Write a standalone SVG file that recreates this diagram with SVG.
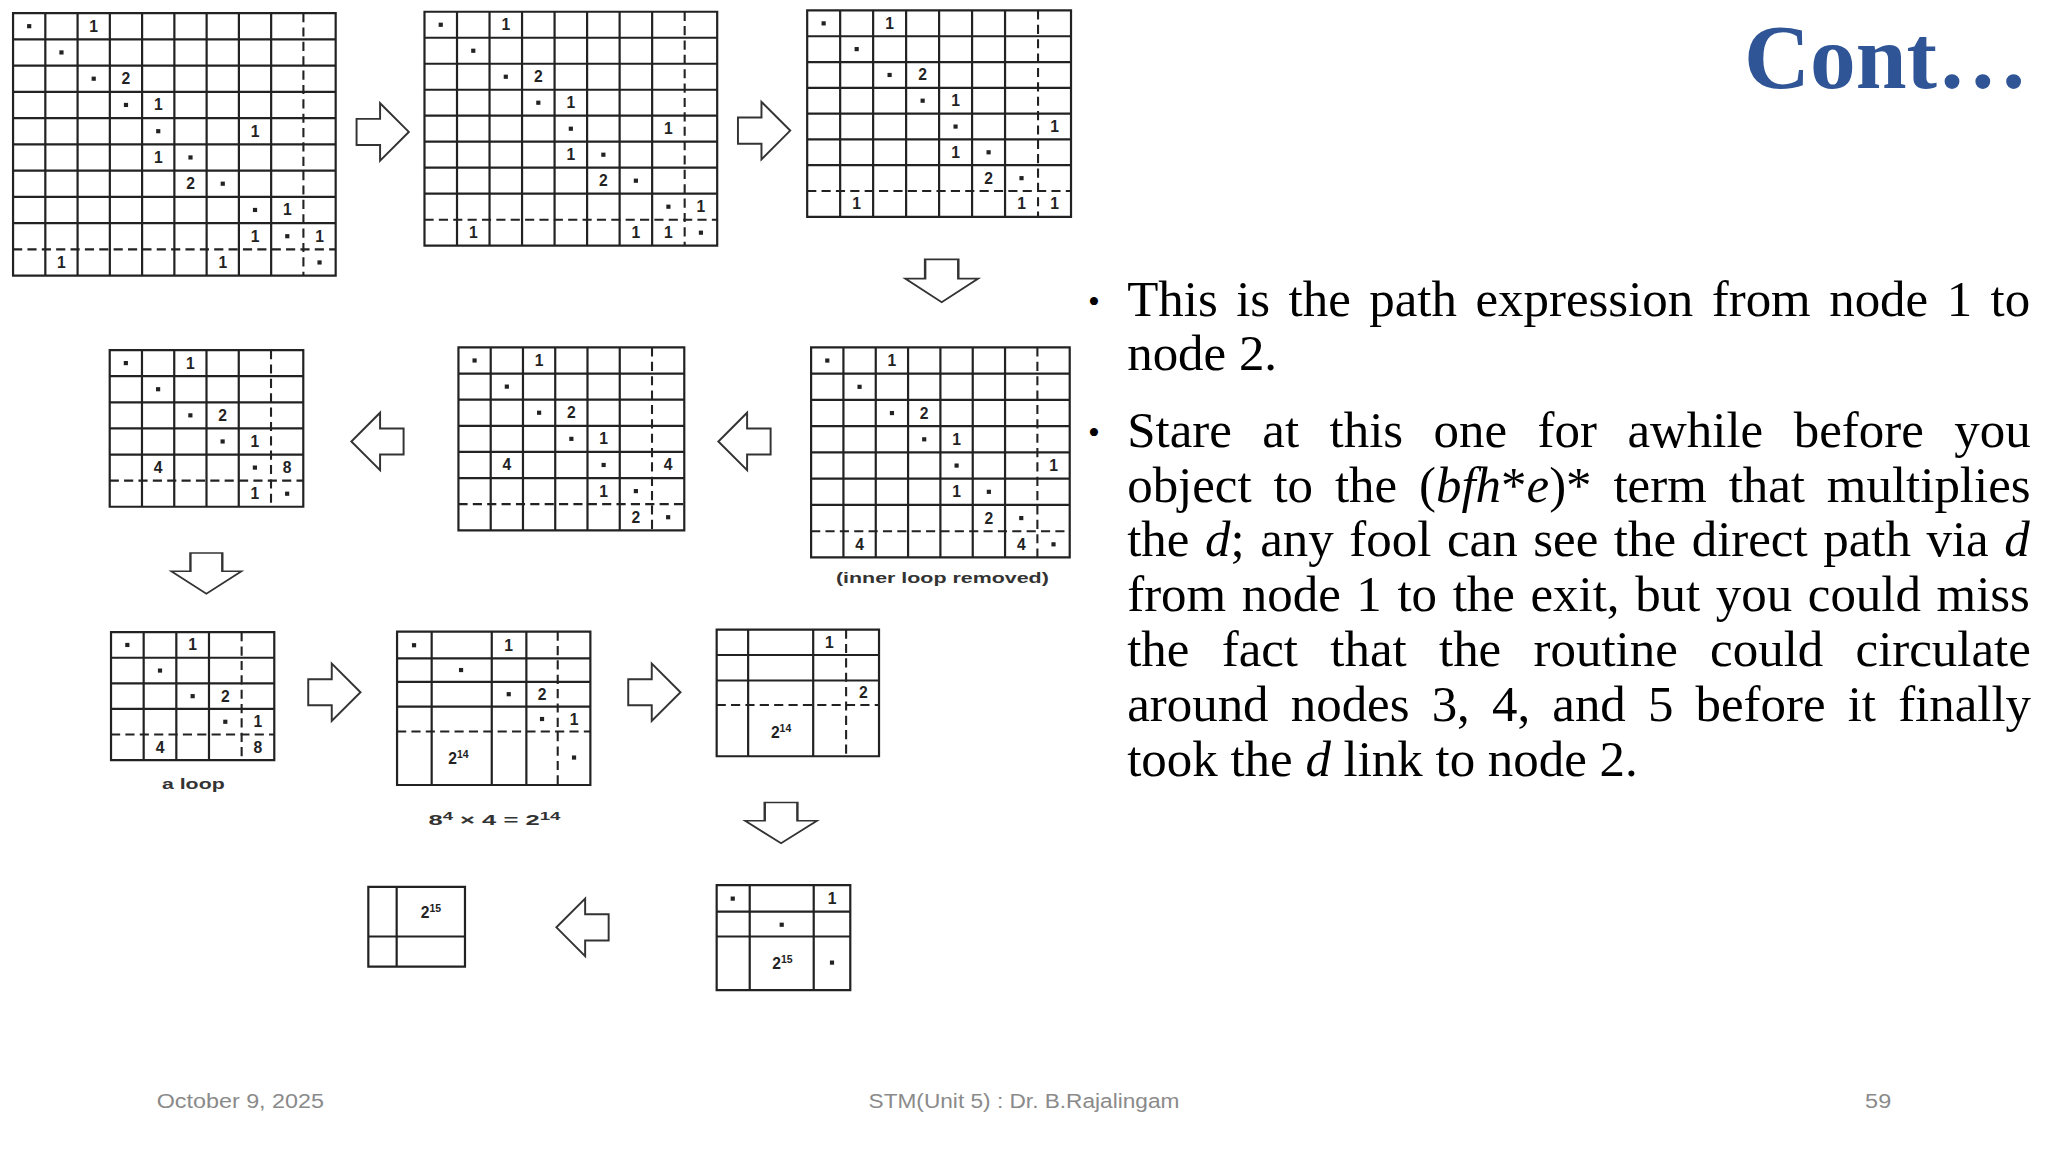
<svg xmlns="http://www.w3.org/2000/svg" width="2048" height="1152" viewBox="0 0 2048 1152">
<style>
.g{fill:none;stroke:#222;stroke-width:2.2;vector-effect:non-scaling-stroke}
.dl{stroke:#222;stroke-width:1.6;stroke-dasharray:7 4;fill:none}
.n{font-family:"Liberation Sans",Arial,sans-serif;font-weight:bold;font-size:12px;fill:#222;text-anchor:middle;dominant-baseline:central}
.cap{font-family:"Liberation Sans",Arial,sans-serif;font-weight:bold;font-size:11px;fill:#333}
.ar{fill:#fff;stroke:#333;stroke-width:1.5;stroke-linejoin:miter}
.b{font-family:"Liberation Serif","Times New Roman",serif;font-size:39px;fill:#000}
.f{font-family:"Liberation Sans",Arial,sans-serif;font-size:16px;fill:#8a8a8a}
</style>
<defs>
<rect id="dot" x="-1.6" y="-1.6" width="3.2" height="3.2" fill="#222"/>
<path id="arr" d="M-20,-10 H-2 V-22 L20,0 L-2,22 V10 H-20 Z"/>
</defs>
<rect width="2048" height="1152" fill="#fff"/>
<g transform="scale(1.30612)">
<g id="m1">
<g transform="translate(10,10) scale(24.7,20.1)"><path class="g" d="M0,0H10V10H0Z M1,0V10M2,0V10M3,0V10M4,0V10M5,0V10M6,0V10M7,0V10M8,0V10 M0,1H10M0,2H10M0,3H10M0,4H10M0,5H10M0,6H10M0,7H10M0,8H10"/></g>
<path class="dl" d="M232.3,10V211M10,190.9H257"/>
<use href="#dot" x="22.35" y="20.05"/><text class="n" x="71.75" y="20.05">1</text>
<use href="#dot" x="47.05" y="40.15"/>
<use href="#dot" x="71.75" y="60.25"/><text class="n" x="96.45" y="60.25">2</text>
<use href="#dot" x="96.45" y="80.35"/><text class="n" x="121.15" y="80.35">1</text>
<use href="#dot" x="121.15" y="100.45"/><text class="n" x="195.25" y="100.45">1</text>
<text class="n" x="121.15" y="120.55">1</text><use href="#dot" x="145.85" y="120.55"/>
<text class="n" x="145.85" y="140.65">2</text><use href="#dot" x="170.55" y="140.65"/>
<use href="#dot" x="195.25" y="160.75"/><text class="n" x="219.95" y="160.75">1</text>
<text class="n" x="195.25" y="180.85">1</text><use href="#dot" x="219.95" y="180.85"/><text class="n" x="244.65" y="180.85">1</text>
<text class="n" x="47.05" y="200.95">1</text><text class="n" x="170.55" y="200.95">1</text><use href="#dot" x="244.65" y="200.95"/>
</g>
<g id="m2">
<g transform="translate(325,9) scale(24.9,19.9)"><path class="g" d="M0,0H9V9H0Z M1,0V9M2,0V9M3,0V9M4,0V9M5,0V9M6,0V9M7,0V9 M0,1H9M0,2H9M0,3H9M0,4H9M0,5H9M0,6H9M0,7H9"/></g>
<path class="dl" d="M524.2,9V188M325,168.2H549"/>
<use href="#dot" x="337.45" y="18.95"/><text class="n" x="387.25" y="18.95">1</text>
<use href="#dot" x="362.35" y="38.85"/>
<use href="#dot" x="387.25" y="58.75"/><text class="n" x="412.15" y="58.75">2</text>
<use href="#dot" x="412.15" y="78.65"/><text class="n" x="437.05" y="78.65">1</text>
<use href="#dot" x="437.05" y="98.55"/><text class="n" x="511.75" y="98.55">1</text>
<text class="n" x="437.05" y="118.45">1</text><use href="#dot" x="461.95" y="118.45"/>
<text class="n" x="461.95" y="138.35">2</text><use href="#dot" x="486.85" y="138.35"/>
<use href="#dot" x="511.75" y="158.25"/><text class="n" x="536.65" y="158.25">1</text>
<text class="n" x="362.35" y="178.15">1</text><text class="n" x="486.85" y="178.15">1</text><text class="n" x="511.75" y="178.15">1</text><use href="#dot" x="536.65" y="178.15"/>
</g>
<g id="m3">
<g transform="translate(618,8) scale(25.25,19.75)"><path class="g" d="M0,0H8V8H0Z M1,0V8M2,0V8M3,0V8M4,0V8M5,0V8M6,0V8 M0,1H8M0,2H8M0,3H8M0,4H8M0,5H8M0,6H8"/></g>
<path class="dl" d="M794.75,8V166M618,146.25H820"/>
<use href="#dot" x="630.6" y="17.9"/><text class="n" x="681.1" y="17.9">1</text>
<use href="#dot" x="655.9" y="37.6"/>
<use href="#dot" x="681.1" y="57.4"/><text class="n" x="706.4" y="57.4">2</text>
<use href="#dot" x="706.4" y="77.1"/><text class="n" x="731.6" y="77.1">1</text>
<use href="#dot" x="731.6" y="96.9"/><text class="n" x="807.4" y="96.9">1</text>
<text class="n" x="731.6" y="116.6">1</text><use href="#dot" x="756.9" y="116.6"/>
<text class="n" x="756.9" y="136.4">2</text><use href="#dot" x="782.1" y="136.4"/>
<text class="n" x="655.9" y="156.1">1</text><text class="n" x="782.1" y="156.1">1</text><text class="n" x="807.4" y="156.1">1</text>
</g>
<g id="m4">
<g transform="translate(621,266) scale(24.75,20.1)"><path class="g" d="M0,0H8V8H0Z M1,0V8M2,0V8M3,0V8M4,0V8M5,0V8M6,0V8 M0,1H8M0,2H8M0,3H8M0,4H8M0,5H8M0,6H8"/></g>
<path class="dl" d="M794.25,266V426.8M621,406.7H819"/>
<use href="#dot" x="633.4" y="276.05"/><text class="n" x="682.9" y="276.05">1</text>
<use href="#dot" x="658.1" y="296.15"/>
<use href="#dot" x="682.9" y="316.25"/><text class="n" x="707.6" y="316.25">2</text>
<use href="#dot" x="707.6" y="336.35"/><text class="n" x="732.4" y="336.35">1</text>
<use href="#dot" x="732.4" y="356.45"/><text class="n" x="806.6" y="356.45">1</text>
<text class="n" x="732.4" y="376.55">1</text><use href="#dot" x="757.1" y="376.55"/>
<text class="n" x="757.1" y="396.65">2</text><use href="#dot" x="781.9" y="396.65"/>
<text class="n" x="658.1" y="416.75">4</text><text class="n" x="781.9" y="416.75">4</text><use href="#dot" x="806.6" y="416.75"/>
<text class="cap" x="640" y="446" textLength="163" lengthAdjust="spacingAndGlyphs">(inner loop removed)</text>
</g>
<g id="m5">
<g transform="translate(351,266) scale(24.7,20)"><path class="g" d="M0,0H7V7H0Z M1,0V7M2,0V7M3,0V7M4,0V7M5,0V7 M0,1H7M0,2H7M0,3H7M0,4H7M0,5H7"/></g>
<path class="dl" d="M499.2,266V406M351,386H524"/>
<use href="#dot" x="363.35" y="276"/><text class="n" x="412.75" y="276">1</text>
<use href="#dot" x="388.05" y="296"/>
<use href="#dot" x="412.75" y="316"/><text class="n" x="437.45" y="316">2</text>
<use href="#dot" x="437.45" y="336"/><text class="n" x="462.15" y="336">1</text>
<text class="n" x="388.05" y="356">4</text><use href="#dot" x="462.15" y="356"/><text class="n" x="511.55" y="356">4</text>
<text class="n" x="462.15" y="376">1</text><use href="#dot" x="486.85" y="376"/>
<text class="n" x="486.85" y="396">2</text><use href="#dot" x="511.55" y="396"/>
</g>
<g id="m6">
<g transform="translate(84,268) scale(24.7,20)"><path class="g" d="M0,0H6V6H0Z M1,0V6M2,0V6M3,0V6M4,0V6 M0,1H6M0,2H6M0,3H6M0,4H6"/></g>
<path class="dl" d="M207.5,268V388M84,368H232"/>
<use href="#dot" x="96.35" y="278"/><text class="n" x="145.75" y="278">1</text>
<use href="#dot" x="121.05" y="298"/>
<use href="#dot" x="145.75" y="318"/><text class="n" x="170.45" y="318">2</text>
<use href="#dot" x="170.45" y="338"/><text class="n" x="195.15" y="338">1</text>
<text class="n" x="121.05" y="358">4</text><use href="#dot" x="195.15" y="358"/><text class="n" x="219.85" y="358">8</text>
<text class="n" x="195.15" y="378">1</text><use href="#dot" x="219.85" y="378"/>
</g>
<g id="m7">
<g transform="translate(85,484) scale(25,19.6)"><path class="g" d="M0,0H5V5H0Z M1,0V5M2,0V5M3,0V5 M0,1H5M0,2H5M0,3H5"/></g>
<path class="dl" d="M185,484V582M85,562.4H210"/>
<use href="#dot" x="97.5" y="493.8"/><text class="n" x="147.5" y="493.8">1</text>
<use href="#dot" x="122.5" y="513.4"/>
<use href="#dot" x="147.5" y="533"/><text class="n" x="172.5" y="533">2</text>
<use href="#dot" x="172.5" y="552.6"/><text class="n" x="197.5" y="552.6">1</text>
<text class="n" x="122.5" y="572.2">4</text><text class="n" x="197.5" y="572.2">8</text>
<text class="cap" x="124" y="604" textLength="48" lengthAdjust="spacingAndGlyphs">a loop</text>
</g>
<g id="m8">
<path class="g" d="M304,483.6H452V601H304Z M330.5,483.6V601M376.5,483.6V601M403,483.6V601 M304,504H452M304,522H452M304,541H452"/>
<path class="dl" d="M427,483.6V601M304,560H452"/>
<use href="#dot" x="317" y="494"/><text class="n" x="389.5" y="494">1</text>
<use href="#dot" x="353" y="513"/>
<use href="#dot" x="389.5" y="531.5"/><text class="n" x="415" y="531.5">2</text>
<use href="#dot" x="415" y="550.5"/><text class="n" x="439.5" y="550.5">1</text>
<text class="n" x="351" y="581">2<tspan font-size="8" dy="-4">14</tspan></text><use href="#dot" x="439.5" y="580"/>
<text class="cap" x="328" y="632" textLength="101" lengthAdjust="spacingAndGlyphs">8<tspan font-size="8" dy="-4">4</tspan><tspan dy="4">  × 4 = 2</tspan><tspan font-size="8" dy="-4">14</tspan></text>
</g>
<g id="m9">
<path class="g" d="M548.7,482H673V579H548.7Z M572.8,482V579M622.6,482V579 M548.7,501.5H673M548.7,521H673"/>
<path class="dl" d="M647.8,482V579M548.7,539.8H673"/>
<text class="n" x="635" y="492">1</text>
<text class="n" x="661" y="530">2</text>
<text class="n" x="598" y="561">2<tspan font-size="8" dy="-4">14</tspan></text>
</g>
<g id="m10">
<path class="g" d="M548.7,677.6H651V758H548.7Z M574,677.6V758M623,677.6V758 M548.7,698H651M548.7,717H651"/>
<use href="#dot" x="561" y="688"/><text class="n" x="637" y="688">1</text>
<use href="#dot" x="598.5" y="708"/>
<text class="n" x="599" y="738">2<tspan font-size="8" dy="-4">15</tspan></text><use href="#dot" x="637" y="737"/>
</g>
<g id="m11">
<path class="g" d="M282,679H356V740H282Z M303.7,679V740 M282,717H356"/>
<text class="n" x="330" y="699">2<tspan font-size="8" dy="-4">15</tspan></text>
</g>
<g id="connectors">
<use href="#arr" class="ar" transform="translate(293,101)"/>
<use href="#arr" class="ar" transform="translate(585,100)"/>
<use href="#arr" class="ar" transform="translate(721,215) rotate(90) scale(0.82,1.27)"/>
<use href="#arr" class="ar" transform="translate(570,338) rotate(180)"/>
<use href="#arr" class="ar" transform="translate(289,338) rotate(180)"/>
<use href="#arr" class="ar" transform="translate(158,439) rotate(90) scale(0.78,1.22)"/>
<use href="#arr" class="ar" transform="translate(256,530)"/>
<use href="#arr" class="ar" transform="translate(501,530)"/>
<use href="#arr" class="ar" transform="translate(598,630) rotate(90) scale(0.78,1.25)"/>
<use href="#arr" class="ar" transform="translate(446,710) rotate(180)"/>
</g>
<text x="1553" y="67" text-anchor="end" font-family="'Liberation Serif','Times New Roman',serif" font-weight="bold" font-size="70" fill="#2F5597">Cont…</text>
<g class="b">
<text x="833" y="240" font-size="26">•</text>
<text x="863" y="242" word-spacing="4.4">This is the path expression from node 1 to</text>
<text x="863" y="283">node 2.</text>
<text x="833" y="340" font-size="26">•</text>
<text x="863" y="342" word-spacing="13.6">Stare at this one for awhile before you</text>
<text x="863" y="384" word-spacing="7">object to the (<tspan font-style="italic">bfh</tspan>*<tspan font-style="italic">e</tspan>)* term that multiplies</text>
<text x="863" y="426" word-spacing="2.2">the <tspan font-style="italic">d</tspan>; any fool can see the direct path via <tspan font-style="italic">d</tspan></text>
<text x="863" y="468" word-spacing="2.2">from node 1 to the exit, but you could miss</text>
<text x="863" y="510" word-spacing="15">the fact that the routine could circulate</text>
<text x="863" y="552" word-spacing="7.2">around nodes 3, 4, and 5 before it finally</text>
<text x="863" y="594">took the <tspan font-style="italic">d</tspan> link to node 2.</text>
</g>
<text class="f" x="120" y="848" textLength="128" lengthAdjust="spacingAndGlyphs">October 9, 2025</text>
<text class="f" x="665" y="848" textLength="238" lengthAdjust="spacingAndGlyphs">STM(Unit 5) : Dr. B.Rajalingam</text>
<text class="f" x="1428" y="848" textLength="20" lengthAdjust="spacingAndGlyphs">59</text>
</g>
</svg>
